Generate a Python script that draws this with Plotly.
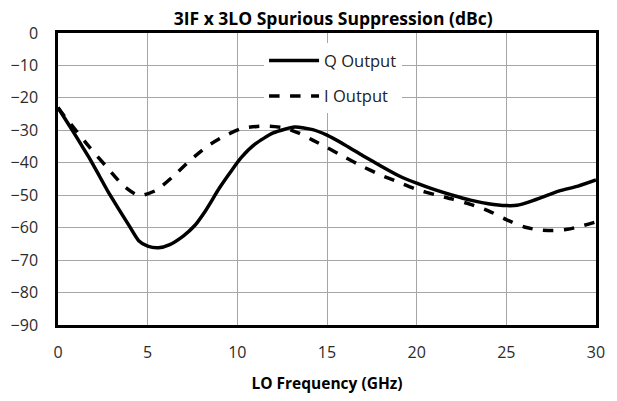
import plotly.graph_objects as go

# LO frequency (GHz) and suppression (dBc)
q_freq = [0, 0.4, 0.8, 1.3, 1.8, 2.3, 2.8, 3.3, 4.0, 4.5, 5.0, 5.6, 6.2, 7.0, 7.6, 8.2, 9.0, 9.6, 10.2, 11.0, 12.0, 13.2, 14.2, 15.0, 16.0, 17.0, 18.0, 19.0, 20.0, 21.0, 22.0, 23.0, 24.0, 25.0, 25.6, 26.4, 27.2, 28.0, 29.0, 30.0]
q_vals = [-23, -26.5, -30, -34.5, -39, -44, -49, -53.5, -59.7, -64, -65.7, -66.2, -65.3, -62.5, -59.5, -55, -47.8, -43, -38.5, -34.2, -30.8, -29, -29.8, -31.5, -34.5, -37.8, -41, -44, -46.3, -48.3, -50, -51.5, -52.6, -53.2, -53.1, -51.8, -50.2, -48.6, -47.2, -45.3]

i_freq = [0, 0.4, 0.85, 1.8, 2.7, 3.6, 4.3, 4.7, 5.5, 6.4, 7.4, 8.3, 9.2, 10.2, 11.1, 11.8, 12.6, 13.4, 14.2, 15.0, 16.0, 17.0, 18.0, 19.0, 20.0, 21.0, 22.0, 23.0, 24.0, 25.0, 26.0, 26.8, 27.6, 28.4, 29.2, 30.0]
i_vals = [-23, -26, -29, -35.5, -41.2, -46.8, -49.6, -50, -48.4, -44.3, -39.1, -35, -32, -29.5, -28.8, -28.7, -29.2, -30.8, -33, -35.3, -38.3, -41.2, -43.8, -46, -48.2, -49.8, -51.2, -52.8, -54.8, -57.5, -59.8, -60.7, -60.9, -60.5, -59.5, -58.2]

x_ticks = [0, 5, 10, 15, 20, 25, 30]
y_ticks = [0, -10, -20, -30, -40, -50, -60, -70, -80, -90]

font = "'Open Sans', Lato, sans-serif"

fig = go.Figure()
fig.add_trace(go.Scatter(x=q_freq, y=q_vals, name="Q Output", mode="lines",
                         line=dict(color="black", width=3.5, shape="spline", smoothing=0.6),
                         legendgroup="q"))
fig.add_trace(go.Scatter(x=i_freq, y=i_vals, name="I Output", mode="lines",
                         line=dict(color="black", width=3.5, dash="dash", shape="spline", smoothing=0.6),
                         legendgroup="i"))

# the page body adds an 8px offset, so the figure is sized to fit inside the window
fig.update_layout(
    width=609, height=393,
    margin=dict(l=50, r=21, t=25, b=76),
    paper_bgcolor="white", plot_bgcolor="white",
    font=dict(family=font, size=16, color="#2b2b2b"),
    title=dict(text="<b>3IF x 3LO Spurious Suppression (dBc)</b>", x=0.534, xanchor="center",
               y=0.972, yanchor="middle", font=dict(size=17.5, color="black")),
    legend=dict(x=0.383, y=0.965, xanchor="left", yanchor="top", bgcolor="white",
                borderwidth=0, tracegroupgap=11, font=dict(size=16.5, color="#222222"),
                itemwidth=50),
    showlegend=True,
)
fig.update_xaxes(range=[0, 30], tickvals=x_ticks, showgrid=True, gridcolor="#a6a6a6", gridwidth=1,
                 showline=True, linecolor="black", linewidth=2.5, mirror=True, zeroline=False,
                 ticks="", ticklabelstandoff=11, automargin=False,
                 title=dict(text="<b>LO Frequency (GHz)</b>", font=dict(size=15.5, color="black"), standoff=17))
fig.update_yaxes(range=[-90, 0], tickvals=y_ticks, showgrid=True, gridcolor="#a6a6a6", gridwidth=1,
                 showline=True, linecolor="black", linewidth=2.5, mirror=True, zeroline=False,
                 ticks="", ticklabelstandoff=14, automargin=False)

fig.write_html("out.html")
